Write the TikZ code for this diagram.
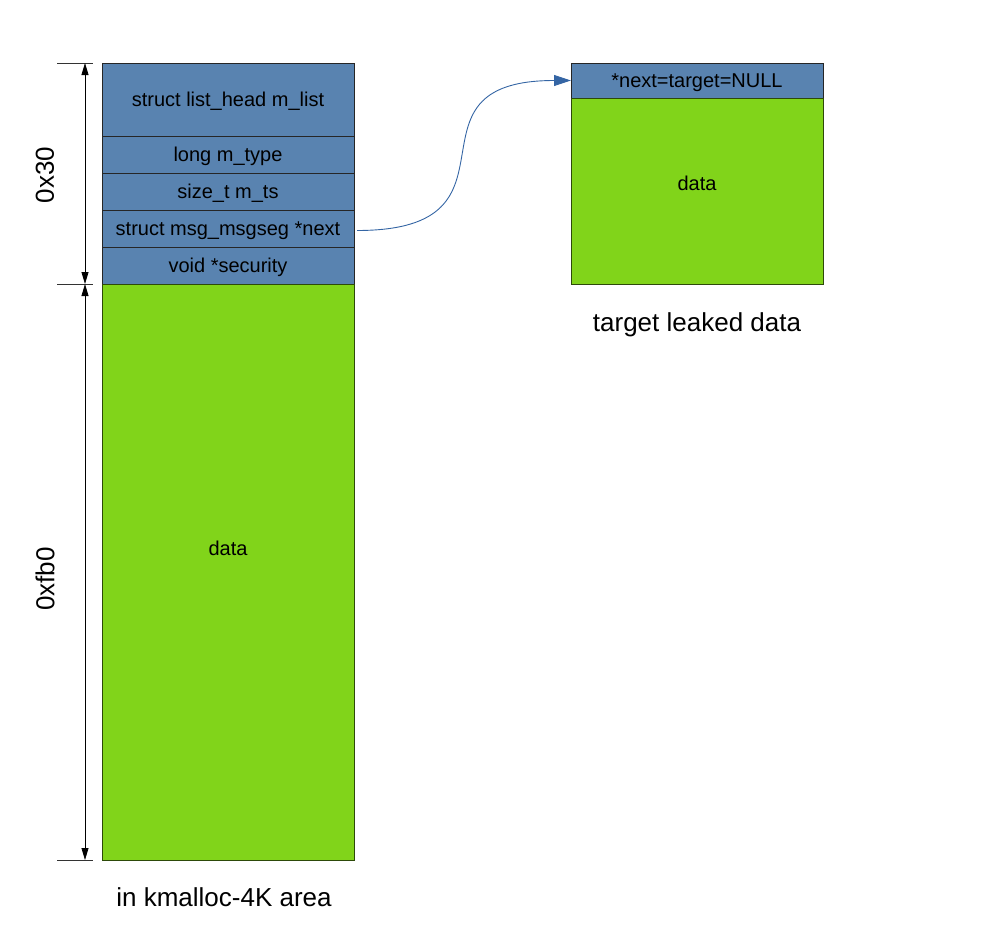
\documentclass[tikz,border=0pt]{standalone}
\usepackage{fontspec}
\setmainfont{Liberation Sans}
\usetikzlibrary{positioning,arrows.meta}
\usepackage{xcolor}

\definecolor{fieldblue}{RGB}{89,131,176}
\definecolor{datagreen}{RGB}{129,212,26}
\definecolor{linkblue}{RGB}{52,101,164}

\tikzset{
    field/.style={draw=black!85, line width=1pt, fill=fieldblue, minimum width=252pt,
        inner sep=0pt, outer sep=0pt, text height=16pt, text depth=2pt,
        font=\fontsize{20}{24}\selectfont},
    payload/.style={draw=datagreen!35!black, line width=1pt, fill=datagreen, minimum width=252pt,
        inner sep=0pt, outer sep=0pt},
    payloadtext/.style={font=\fontsize{20}{24}\selectfont, text height=16pt, text depth=2pt, inner sep=0pt},
    caption/.style={font=\fontsize{26}{30}\selectfont},
    dimline/.style={{Triangle[length=12pt,width=7pt]}-{Triangle[length=12pt,width=7pt]}, line width=0.8pt},
    tick/.style={line width=0.8pt, black!80}
}

\begin{document}
\begin{tikzpicture}[x=1pt,y=-1pt]
            \useasboundingbox (0,0) rectangle (998,945);
            \def\X{102}
            \def\tX{571}
            \def\Y{63}
            \def\row{37pt}

            % kmalloc-4K object
            \node[field, minimum height=73pt, anchor=north west] (mlist) at (\X,\Y) {struct list\_head m\_list};
            \node[field, minimum height=\row, below=0pt of mlist] (mtype) {long m\_type};
            \node[field, minimum height=\row, below=0pt of mtype] (mts) {size\_t m\_ts};
            \node[field, minimum height=\row, below=0pt of mts] (next) {struct msg\_msgseg *next};
            \node[field, minimum height=\row, below=0pt of next] (security) {void *security};
            \node[payload, minimum height=576pt, below=0pt of security,
                label={[payloadtext, yshift=24pt]center:data}] (body) {};

            % target segment
            \node[field, minimum height=35pt, anchor=north west] (tnext) at (\tX,\Y) {*next=target=NULL};
            \node[payload, minimum height=186pt, below=0pt of tnext,
                label={[payloadtext, yshift=8pt]center:data}] (tbody) {};

            \node[caption] (leftcap) at (224,897) {in kmalloc-4K area};
            \node[caption] (rightcap) at (697,325) {target leaked data};

            % sizes
            \coordinate (d0) at (85,\Y);
            \coordinate (d1) at (85,284);
            \coordinate (d2) at (85,860);
            \draw[tick] (57,\Y) -- (93,\Y);
            \draw[tick] (57,284) -- (93,284);
            \draw[tick] (57,860) -- (93,860);
            \draw[dimline] (d0) -- (d1);
            \draw[dimline] (d1) -- (d2);
            \node[caption, rotate=90] (hdrsize) at (45,175) {0x30};
            \node[caption, rotate=90] (datasize) at (45,579) {0xfb0};

            \draw[linkblue, line width=0.9pt, -{Triangle[length=17pt,width=11pt]}]
                ([xshift=3pt,yshift=-2pt]next.east) .. controls +(180,0) and +(-180,0) .. (tnext.west);
        \end{tikzpicture}
\end{document}
